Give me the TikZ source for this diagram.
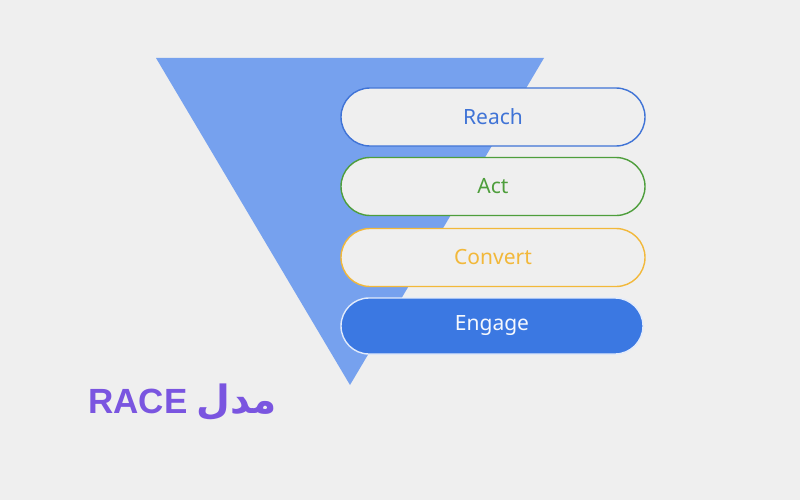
\documentclass[tikz,border=0pt]{standalone}
\usepackage{fontspec}
\setmainfont{Noto Sans}
\newfontfamily\arabicfont[Script=Arabic]{DejaVu Sans}
\newfontfamily\racefont{Liberation Sans}
\TeXXeTstate=1
\definecolor{bg}{HTML}{EFEFEF}
\definecolor{funnel}{HTML}{76A1EE}
\definecolor{reachc}{HTML}{3F73D6}
\definecolor{actc}{HTML}{4E9E3C}
\definecolor{convc}{HTML}{F2B83A}
\definecolor{engc}{HTML}{3B78E2}
\definecolor{titlec}{HTML}{7A55E0}
\begin{document}
\begin{tikzpicture}[x=1pt,y=-1pt,
  pill/.style={rectangle, rounded corners=29pt, minimum width=304pt, minimum height=58pt,
    line width=1.4pt, fill=bg, font=\fontsize{21}{24}\selectfont, inner sep=0pt}]
\fill[bg] (0,0) rectangle (800,500);
\useasboundingbox (0,0) rectangle (800,500);
\fill[funnel] (156,58) coordinate (tl) -- (544,58) coordinate (tr) -- (350,385) coordinate (bt) -- cycle;
\node[pill, draw=reachc, text=reachc] (reach) at (493,117) {Reach};
\node[pill, draw=actc, text=actc] (act) at (493,186.5) {Act};
\node[pill, draw=convc, text=convc] (convert) at (493,257.5) {Convert};
\node[pill, draw=white!85!engc, fill=engc, text=white!95!engc, minimum width=302pt, minimum height=56pt, rounded corners=28pt] (engage) at (492,326) {Engage};
\node[anchor=base west, inner sep=0pt, text=titlec, font=\fontsize{35}{38}\selectfont] (title) at (88,413) {\beginR{\arabicfont\bfseries\fontsize{39}{40}\selectfont مدل} \beginL{\racefont\bfseries RACE}\endL\endR};
\end{tikzpicture}
\end{document}
